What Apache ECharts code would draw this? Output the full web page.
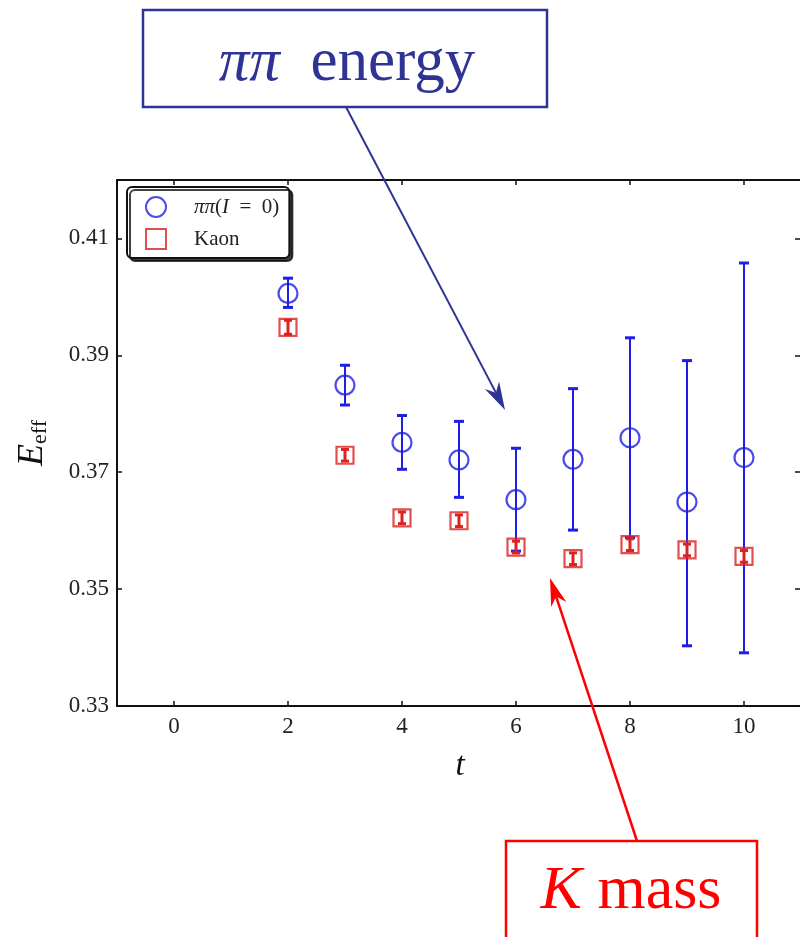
<!DOCTYPE html>
<html>
<head>
<meta charset="utf-8">
<script src="https://cdn.jsdelivr.net/npm/echarts@6/dist/echarts.min.js"></script>
<style>html,body{margin:0;padding:0;background:#fff;}#c{width:800px;height:937px;}</style>
</head>
<body>
<div id="c"></div>
<script>
// ---- data ----
const tValues = [2, 3, 4, 5, 6, 7, 8, 9, 10];
const piPi = [0.4006, 0.3849, 0.3751, 0.3721, 0.3653, 0.3722, 0.3759, 0.3649, 0.3725];
const piPiLow = [0.3982, 0.3815, 0.3705, 0.3657, 0.3565, 0.3601, 0.3588, 0.3403, 0.3391];
const piPiHigh = [0.4032, 0.3883, 0.3797, 0.3787, 0.3741, 0.3843, 0.3930, 0.3891, 0.4058];
const kaon = [0.3948, 0.3729, 0.3622, 0.3617, 0.3572, 0.3552, 0.3576, 0.3567, 0.3556];
const kaonErr = [0.0012, 0.0010, 0.0010, 0.0010, 0.0010, 0.0010, 0.0010, 0.0010, 0.0010];
const xTicks = [0, 2, 4, 6, 8, 10];
const yTicks = [0.33, 0.35, 0.37, 0.39, 0.41];

const BLUE = '#1e1ee6';
const RED = '#dd2020';
const FONT = 'Liberation Serif';

const chart = echarts.init(document.getElementById('c'), null, {renderer: 'canvas'});

function errRender(color, capW, lw) {
  return function (params, api) {
    const x = api.value(0), lo = api.value(1), hi = api.value(2);
    const p1 = api.coord([x, hi]), p2 = api.coord([x, lo]);
    const st = {stroke: color, lineWidth: lw};
    return {type: 'group', children: [
      {type: 'line', shape: {x1: p1[0], y1: p1[1], x2: p2[0], y2: p2[1]}, style: st},
      {type: 'line', shape: {x1: p1[0] - capW, y1: p1[1], x2: p1[0] + capW, y2: p1[1]}, style: {stroke: color, lineWidth: 3}},
      {type: 'line', shape: {x1: p2[0] - capW, y1: p2[1], x2: p2[0] + capW, y2: p2[1]}, style: {stroke: color, lineWidth: 3}}
    ]};
  };
}

function arrow(x1, y1, x2, y2, color, lw, headLen, headW) {
  const dx = x2 - x1, dy = y2 - y1, L = Math.sqrt(dx * dx + dy * dy);
  const ux = dx / L, uy = dy / L, nx = -uy, ny = ux;
  const bx = x2 - ux * headLen, by = y2 - uy * headLen;
  const ix = x2 - ux * headLen * 0.7, iy = y2 - uy * headLen * 0.7;
  return [
    {type: 'line', shape: {x1: x1, y1: y1, x2: ix, y2: iy}, style: {stroke: color, lineWidth: lw}, z: 100},
    {type: 'polygon', shape: {points: [[x2, y2], [bx + nx * headW, by + ny * headW], [ix, iy], [bx - nx * headW, by - ny * headW]]}, style: {fill: color}, z: 100}
  ];
}

const piData = tValues.map((t, i) => [t, piPi[i]]);
const piErr = tValues.map((t, i) => [t, piPiLow[i], piPiHigh[i]]);
const kData = tValues.map((t, i) => [t, kaon[i]]);
const kErrData = tValues.map((t, i) => [t, kaon[i] - kaonErr[i], kaon[i] + kaonErr[i]]);

const axisLineStyle = {color: '#111', width: 2};
const X_MAX = 11.035;

const option = {
  animation: false,
  backgroundColor: '#fff',
  grid: {left: 117, top: 180, width: 686, height: 526, containLabel: false, outerBoundsMode: 'none'},
  xAxis: [{
    type: 'value', min: -1, max: X_MAX, position: 'bottom',
    axisLine: {show: true, lineStyle: axisLineStyle},
    axisTick: {show: true, inside: true, length: 5, lineStyle: {color: '#111', width: 1.5}, customValues: xTicks},
    axisLabel: {show: true, customValues: xTicks, margin: 9, fontFamily: FONT, fontSize: 23, color: '#222'},
    splitLine: {show: false},
    name: 't', nameLocation: 'middle', nameGap: 44,
    nameTextStyle: {fontFamily: FONT, fontStyle: 'italic', fontSize: 33, color: '#111'}
  }, {
    type: 'value', min: -1, max: X_MAX, position: 'top',
    axisLine: {show: true, onZero: false, lineStyle: axisLineStyle},
    axisTick: {show: true, inside: true, length: 5, lineStyle: {color: '#111', width: 1.5}, customValues: xTicks},
    axisLabel: {show: false},
    splitLine: {show: false}
  }],
  yAxis: [{
    type: 'value', min: 0.33, max: 0.42, position: 'left',
    axisLine: {show: true, onZero: false, lineStyle: axisLineStyle},
    axisTick: {show: true, inside: true, length: 5, lineStyle: {color: '#111', width: 1.5}, customValues: yTicks},
    axisLabel: {show: true, customValues: yTicks, margin: 8, fontFamily: FONT, fontSize: 23, color: '#222',
      formatter: v => v.toFixed(2)},
    splitLine: {show: false},
    name: '{e|E}{s|eff}', nameLocation: 'middle', nameGap: 66, nameRotate: 90,
    nameTextStyle: {
      rich: {
        e: {fontFamily: FONT, fontStyle: 'italic', fontSize: 36, color: '#111'},
        s: {fontFamily: FONT, fontSize: 22, color: '#111', padding: [14, 0, 0, 0]}
      }
    }
  }, {
    type: 'value', min: 0.33, max: 0.42, position: 'right',
    axisLine: {show: true, onZero: false, lineStyle: axisLineStyle},
    axisTick: {show: true, inside: true, length: 8, lineStyle: {color: '#111', width: 1.5}, customValues: yTicks},
    axisLabel: {show: false},
    splitLine: {show: false}
  }],
  legend: {
    left: 127, top: 187, orient: 'vertical',
    padding: [9, 10, 8, 18],
    itemGap: 10, itemWidth: 20, itemHeight: 20,
    backgroundColor: '#fff', borderColor: '#111', borderWidth: 2, borderRadius: 5,
    shadowColor: 'rgba(0,0,0,0.75)', shadowBlur: 0, shadowOffsetX: 3, shadowOffsetY: 3,
    data: [
      {name: 'pipi', icon: 'circle', itemStyle: {color: 'rgba(0,0,0,0)', borderColor: BLUE, borderWidth: 2}},
      {name: 'kaon', icon: 'rect', itemStyle: {color: 'rgba(0,0,0,0)', borderColor: RED, borderWidth: 2}}
    ],
    formatter: function (n) {
      return n === 'pipi' ? '{i|ππ}{r|(}{i|I}{r|\u2002=\u20020)}' : '{r|Kaon}';
    },
    textStyle: {
      padding: [0, 0, 0, 23],
      rich: {
        i: {fontFamily: FONT, fontStyle: 'italic', fontSize: 21, color: '#222'},
        r: {fontFamily: FONT, fontSize: 21, color: '#222'}
      }
    }
  },
  series: [
    {
      name: 'pipiErr', type: 'custom', renderItem: errRender(BLUE, 5, 2),
      data: piErr, encode: {x: 0, y: [1, 2]}, z: 2, silent: true
    },
    {
      name: 'kaonErr', type: 'custom', renderItem: errRender(RED, 4, 3),
      data: kErrData, encode: {x: 0, y: [1, 2]}, z: 2, silent: true
    },
    {
      name: 'pipi', type: 'scatter', data: piData, symbol: 'circle', symbolSize: 19,
      itemStyle: {color: 'rgba(0,0,0,0)', borderColor: BLUE, borderWidth: 2.2}, z: 3
    },
    {
      name: 'kaon', type: 'scatter', data: kData, symbol: 'rect', symbolSize: 17,
      itemStyle: {color: 'rgba(0,0,0,0)', borderColor: RED, borderWidth: 2.2}, z: 3
    }
  ],
  graphic: [
    {type: 'rect', shape: {x: 143, y: 10, width: 404, height: 97}, style: {fill: '#fff', stroke: '#2f3494', lineWidth: 2.5}, z: 100},
    {type: 'text', x: 347, y: 94, style: {
      text: '{i|ππ}{r|  energy}', align: 'center', verticalAlign: 'bottom',
      rich: {
        i: {fontFamily: FONT, fontStyle: 'italic', fontSize: 61, fill: '#2f3494'},
        r: {fontFamily: FONT, fontSize: 61, fill: '#2f3494'}
      }
    }, z: 101},
    ...arrow(346, 107, 505, 410, '#2f3494', 2, 28, 8),
    {type: 'rect', shape: {x: 506, y: 841, width: 251, height: 120}, style: {fill: '#fff', stroke: '#ff0000', lineWidth: 2.5}, z: 100},
    {type: 'text', x: 631, y: 923, style: {
      text: '{i|K}{r| mass}', align: 'center', verticalAlign: 'bottom',
      rich: {
        i: {fontFamily: FONT, fontStyle: 'italic', fontSize: 62, fill: '#ff0000'},
        r: {fontFamily: FONT, fontSize: 62, fill: '#ff0000'}
      }
    }, z: 101},
    ...arrow(637, 841, 550, 578, '#ff0000', 2.5, 28, 8)
  ]
};
chart.setOption(option);
</script>
</body>
</html>
